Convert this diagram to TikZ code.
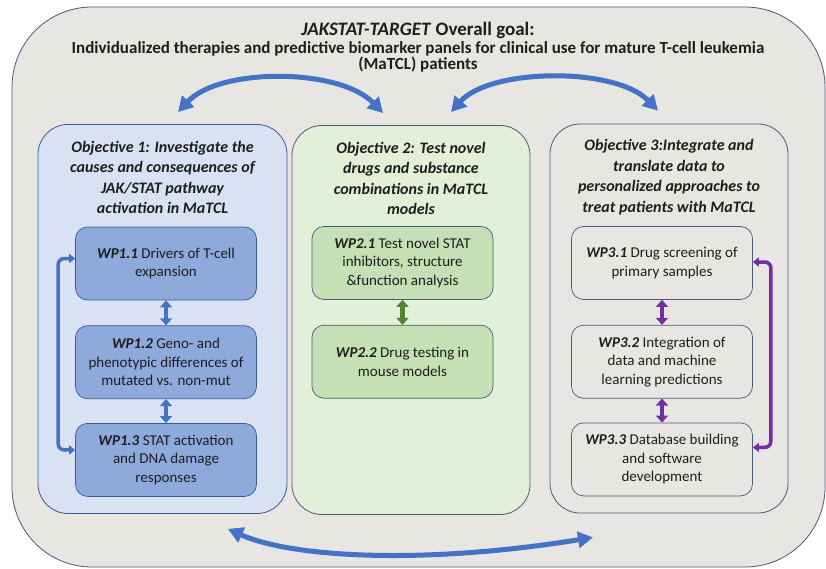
\documentclass[tikz,border=0pt]{standalone}
\usepackage{fontspec}
\setmainfont{Carlito}
\usetikzlibrary{arrows.meta,positioning}
\definecolor{frame}{HTML}{4A5A78}
\definecolor{blueframe}{HTML}{3A5A98}
\definecolor{bggray}{HTML}{E7E6E3}
\definecolor{blueback}{HTML}{D9E2F3}
\definecolor{bluewp}{HTML}{8EA9DB}
\definecolor{greenback}{HTML}{E2EFD9}
\definecolor{greenwp}{HTML}{C5E0B4}
\definecolor{jakblue}{HTML}{4472C4}
\definecolor{jakgreen}{HTML}{548235}
\definecolor{jakpurple}{HTML}{7030A0}
\definecolor{ink}{HTML}{1E1E1E}
\tikzset{
  panel/.style={draw=frame, line width=0.8pt, rounded corners=30pt, minimum width=238pt, minimum height=389pt, inner sep=0pt},
  head/.style={align=center, font=\fontsize{16}{20.5}\selectfont\bfseries\itshape, text=ink},
  wp/.style={draw=frame, line width=0.7pt, rounded corners=12pt, minimum width=181pt, minimum height=73pt, align=center, font=\fontsize{15}{18.5}\selectfont, text=ink, inner sep=2pt},
  curvearrow/.style={{Triangle[length=15pt,width=16pt]}-{Triangle[length=15pt,width=16pt]}, line width=5pt, jakblue},
  wparrow/.style={{Triangle[length=7pt,width=12pt]}-{Triangle[length=7pt,width=12pt]}, line width=4.5pt},
  sidearrow/.style={{Triangle[length=6pt,width=9pt]}-{Triangle[length=6pt,width=9pt]}, line width=3.5pt, rounded corners=6pt},
}
\newcommand{\wpid}[1]{\textbf{\textit{#1}}}

\begin{document}
\begin{tikzpicture}[x=1pt, y=-1pt]
  \useasboundingbox (0,0) rectangle (826,569);
  \node[draw=frame, fill=bggray, line width=0.8pt, rounded corners=80pt, minimum width=813pt, minimum height=560pt] (goal) at (418.5,287) {};
  \node[anchor=base, font=\fontsize{19}{19}\selectfont\bfseries, text=ink, inner sep=0pt] (title) at (418,36)
    {\textit{JAKSTAT-TARGET} Overall goal:};
  \node[anchor=base, align=center, font=\fontsize{17}{16}\selectfont\bfseries, text=ink, inner sep=0pt] (aim) at (418,69.5)
    {Individualized therapies and predictive biomarker panels for clinical use for mature T-cell leukemia\\ (MaTCL) patients};

  % objectives
  \node[panel, fill=blueback, draw=blueframe, minimum width=249pt] (obj1) at (162.5,319) {};
  \node[panel, fill=greenback] (obj2) at (411,320) {};
  \node[panel, fill=bggray] (obj3) at (669,318.5) {};

  \node[head] (head1) at ([yshift=-53.5pt]obj1.north) {Objective 1: Investigate the\\ causes and consequences of\\ JAK/STAT pathway\\ activation in MaTCL};
  \node[head] (head2) at ([yshift=-53.5pt]obj2.north) {Objective 2: Test novel\\ drugs and substance\\ combinations in MaTCL\\ models};
  \node[head] (head3) at ([yshift=-53.5pt]obj3.north) {Objective 3:Integrate and\\ translate data to\\ personalized approaches to\\ treat patients with MaTCL};

  % work packages
  \node[wp, fill=bluewp, draw=blueframe] (wp11) at (166,263.5) {\wpid{WP1.1} Drivers of T-cell\\ expansion};
  \node[wp, fill=bluewp, draw=blueframe, below=25pt of wp11] (wp12) {\wpid{WP1.2} Geno- and\\ phenotypic differences of\\ mutated vs. non-mut};
  \node[wp, fill=bluewp, draw=blueframe, below=24pt of wp12] (wp13) {\wpid{WP1.3} STAT activation\\ and DNA damage\\ responses};

  \node[wp, fill=greenwp] (wp21) at (402.5,263) {\wpid{WP2.1} Test novel STAT\\ inhibitors, structure\\ \&function analysis};
  \node[wp, fill=greenwp, below=25pt of wp21] (wp22) {\wpid{WP2.2} Drug testing in\\ mouse models};

  \node[wp, fill=bggray] (wp31) at (662,263) {\wpid{WP3.1} Drug screening of\\ primary samples};
  \node[wp, fill=bggray, below=25pt of wp31] (wp32) {\wpid{WP3.2} Integration of\\ data and machine\\ learning predictions};
  \node[wp, fill=bggray, below=24pt of wp32] (wp33) {\wpid{WP3.3} Database building\\ and software\\ development};

  % links between objectives
  \draw[curvearrow] ([xshift=15.5pt,yshift=12pt]obj1.north) .. controls +(42,-45) and +(-43,-45) .. ([xshift=-28pt,yshift=12pt]obj2.north);
  \draw[curvearrow] ([xshift=40pt,yshift=13pt]obj2.north) .. controls +(39,-44) and +(-43,-44) .. ([xshift=-11pt,yshift=13pt]obj3.north);
  \draw[curvearrow] ([xshift=65.5pt,yshift=-15pt]obj1.south) .. controls +(62,28) and +(-173,28) .. ([xshift=-76pt,yshift=-24pt]obj3.south);

  % links between work packages
  \draw[wparrow, jakblue] (wp11) -- (wp12);
  \draw[wparrow, jakblue] (wp12) -- (wp13);
  \draw[sidearrow, jakblue] ([yshift=5pt]wp11.west) -- ++(-17,0) |- ([yshift=10pt]wp13.west);
  \draw[wparrow, jakgreen] (wp21) -- (wp22);
  \draw[wparrow, jakpurple] (wp31) -- (wp32);
  \draw[wparrow, jakpurple] (wp32) -- (wp33);
  \draw[sidearrow, jakpurple] ([yshift=1pt]wp31.east) -- ++(18,0) |- ([yshift=12pt]wp33.east);
\end{tikzpicture}
\end{document}
